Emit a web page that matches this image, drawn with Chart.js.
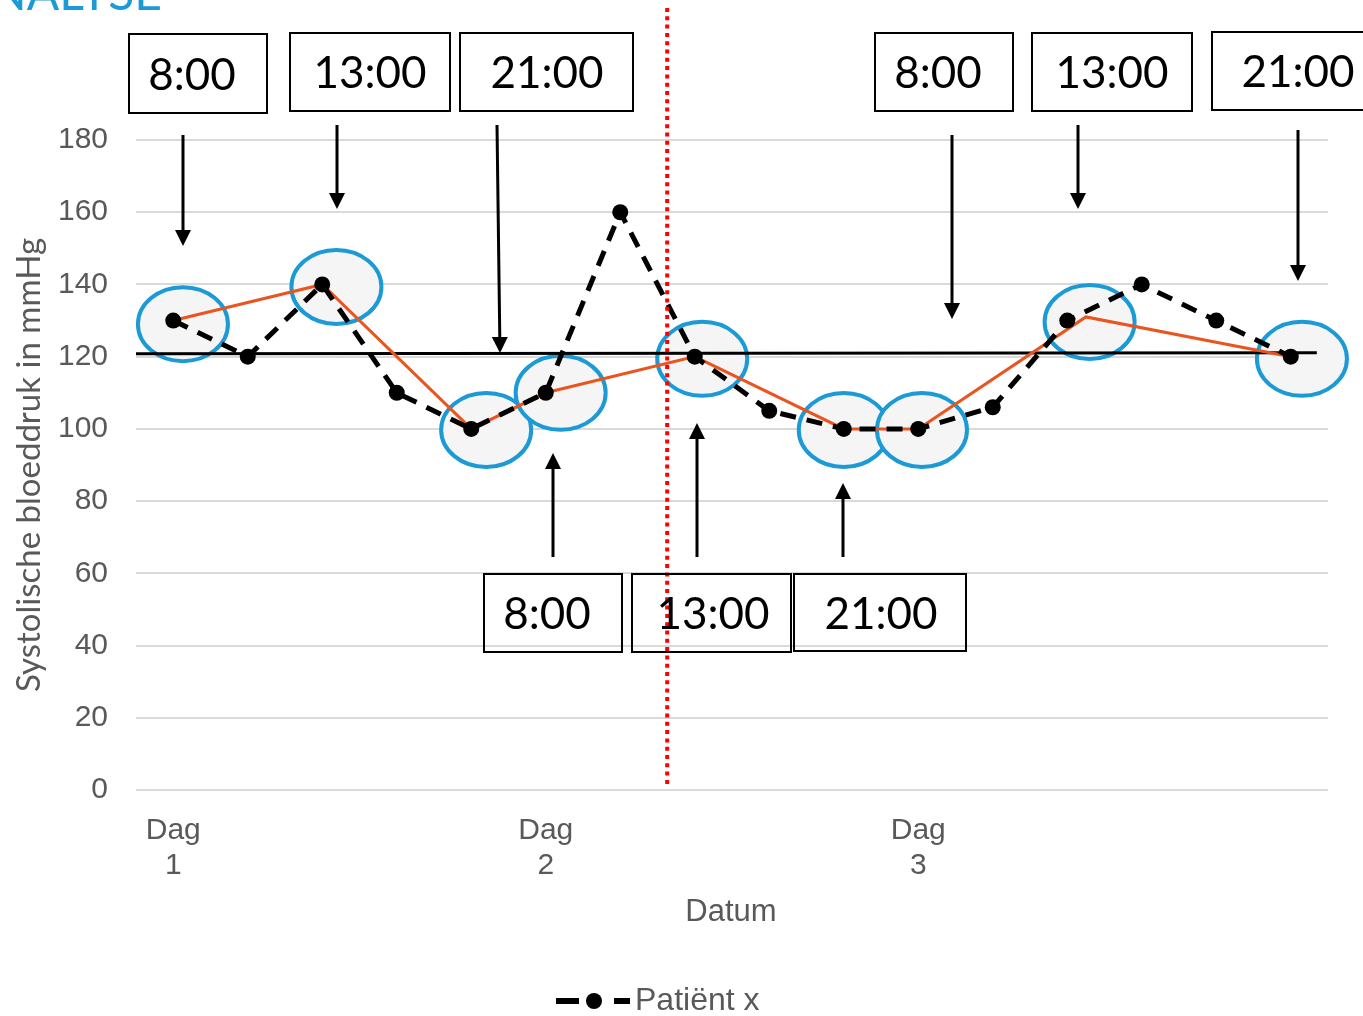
<!DOCTYPE html>
<html>
<head>
<meta charset="utf-8">
<script src="https://cdn.jsdelivr.net/npm/chart.js@4.4.1/dist/chart.umd.min.js"></script>
<style>
    html, body { margin: 0; padding: 0; background: #fff; }
    #wrap { width: 1363px; height: 1016px; position: relative; }
</style>
</head>
<body>
<div id="wrap"><canvas id="myChart"></canvas></div>
<script>
// data
const dayTicks = [0, 5, 10];
const dayLabels = ['Dag 1', 'Dag 2', 'Dag 3'];
const patientValues = [130, 120, 140, 110, 100, 110, 160, 120, 105, 100, 100, 106, 130, 140, 130, 120];
const yTicks = [0, 20, 40, 60, 80, 100, 120, 140, 160, 180];

// orange line through the circled readings
const pickX = [0, 2, 4, 5, 7, 9, 10, 12.25, 15];
const pickY = [130, 140, 100, 110, 120, 100, 100, 131, 120];

// blue ellipses (drawn by hand around the circled readings)
const ringX = [0.13, 2.19, 4.2, 5.2, 7.1, 9, 10.05, 12.3, 15.15];
const ringY = [129, 139.3, 99.7, 110, 119.4, 99.7, 99.7, 129.6, 119.4];

const refValue = 120.8;   // black target line
const splitX = 6.63;      // red dotted divider

// time boxes: [left, top, right, bottom, text, text centre x]
const timeBoxes = [
    [129, 34, 267, 113, '8:00', 192],
    [290, 33, 450, 111, '13:00', 370],
    [460, 33, 633, 111, '21:00', 547],
    [875, 33, 1013, 111, '8:00', 938],
    [1032, 33, 1192, 111, '13:00', 1112],
    [1212, 32, 1375, 110, '21:00', 1298],
    [484, 574, 622, 652, '8:00', 547],
    [632, 574, 791, 652, '13:00', 713],
    [794, 574, 966, 651, '21:00', 881]
];
// arrows: [x start, y start, x tip, y tip]
const arrows = [
    [183, 135, 183, 246],
    [337, 125, 337, 209],
    [497, 125, 500, 353],
    [952, 135, 952, 319],
    [1078, 125, 1078, 209],
    [1298, 130, 1298, 281],
    [553, 557, 553, 453],
    [697, 557, 697, 423],
    [843, 557, 843, 483]
];

const GRAY = '#595959';
const AXIS_FONT = '"Liberation Sans", Arial, sans-serif';
const BOX_FONT = 'Lato, "Open Sans", sans-serif';

const drawArrow = (ctx, x1, y1, x2, y2) => {
    const ang = Math.atan2(y2 - y1, x2 - x1);
    const len = 16, half = 8;
    const bx = x2 - Math.cos(ang) * len, by = y2 - Math.sin(ang) * len;
    ctx.beginPath();
    ctx.moveTo(x1, y1);
    ctx.lineTo(bx, by);
    ctx.stroke();
    ctx.beginPath();
    ctx.moveTo(x2, y2);
    ctx.lineTo(bx + Math.sin(ang) * half, by - Math.cos(ang) * half);
    ctx.lineTo(bx - Math.sin(ang) * half, by + Math.cos(ang) * half);
    ctx.closePath();
    ctx.fill();
};

const overlay = {
    id: 'overlay',
    beforeDatasetsDraw(chart) {
        const { ctx, scales: { x, y } } = chart;
        ctx.save();
        // ellipses
        ringX.forEach((rx, i) => {
            ctx.beginPath();
            ctx.ellipse(x.getPixelForValue(rx), y.getPixelForValue(ringY[i]), 45, 37, 0, 0, Math.PI * 2);
            ctx.fillStyle = '#f5f5f5';
            ctx.fill();
            ctx.lineWidth = 4;
            ctx.strokeStyle = '#1b9ad6';
            ctx.stroke();
        });
        // target line
        ctx.beginPath();
        ctx.moveTo(x.getPixelForValue(-0.5), y.getPixelForValue(refValue));
        ctx.lineTo(x.getPixelForValue(15.35), y.getPixelForValue(refValue + 0.3));
        ctx.lineWidth = 3;
        ctx.strokeStyle = '#000';
        ctx.stroke();
        ctx.restore();
    },
    afterDatasetsDraw(chart) {
        const { ctx, scales: { x, y } } = chart;
        ctx.save();
        // red divider
        ctx.beginPath();
        ctx.setLineDash([4, 4.3]);
        ctx.moveTo(x.getPixelForValue(splitX), 8);
        ctx.lineTo(x.getPixelForValue(splitX), y.getPixelForValue(1));
        ctx.lineWidth = 4;
        ctx.strokeStyle = '#ff0000';
        ctx.stroke();
        ctx.setLineDash([]);

        // boxes
        ctx.strokeStyle = '#000';
        ctx.fillStyle = '#000';
        ctx.lineWidth = 2;
        ctx.font = '44px ' + BOX_FONT;
        ctx.textAlign = 'center';
        ctx.textBaseline = 'middle';
        timeBoxes.forEach(([l, t, r, b, txt, tx]) => {
            ctx.strokeRect(l, t, r - l, b - t);
            ctx.fillText(txt, tx, (t + b) / 2 + 2);
        });

        // arrows
        ctx.lineWidth = 3;
        arrows.forEach(a => drawArrow(ctx, ...a));

        // heading, cut off at the top
        ctx.fillStyle = '#1b9ad6';
        ctx.font = '48px ' + BOX_FONT;
        ctx.textAlign = 'right';
        ctx.textBaseline = 'alphabetic';
        ctx.fillText('ANALYSE', 162, 10);

        // y title
        ctx.fillStyle = GRAY;
        ctx.font = '33px ' + BOX_FONT;
        ctx.textAlign = 'center';
        ctx.textBaseline = 'middle';
        ctx.translate(29, 465);
        ctx.rotate(-Math.PI / 2);
        ctx.fillText('Systolische bloeddruk in mmHg', 0, 0);
        ctx.restore();

        // x title
        ctx.save();
        ctx.fillStyle = GRAY;
        ctx.font = '31px ' + AXIS_FONT;
        ctx.textAlign = 'center';
        ctx.textBaseline = 'middle';
        ctx.fillText('Datum', 731, 912);

        // legend
        ctx.strokeStyle = '#000';
        ctx.lineWidth = 6;
        ctx.beginPath();
        ctx.moveTo(556, 1001); ctx.lineTo(579, 1001);
        ctx.moveTo(614, 1001); ctx.lineTo(630, 1001);
        ctx.stroke();
        ctx.beginPath();
        ctx.arc(594, 1001, 8, 0, Math.PI * 2);
        ctx.fillStyle = '#000';
        ctx.fill();
        ctx.fillStyle = GRAY;
        ctx.textAlign = 'left';
        ctx.font = '32px ' + AXIS_FONT;
        ctx.fillText('Patiënt x', 635, 1001);
        ctx.restore();
    }
};

const ctx = document.getElementById('myChart');
const myChart = new Chart(ctx, {
    type: 'line',
    data: {
        datasets: [{
            label: 'Patiënt x',
            data: patientValues.map((v, i) => ({ x: i, y: v })),
            borderColor: '#000',
            borderWidth: 5,
            borderDash: [16, 11],
            pointRadius: 8,
            pointBackgroundColor: '#000',
            pointBorderWidth: 0,
            tension: 0
        }, {
            label: 'selectie',
            data: pickX.map((v, i) => ({ x: v, y: pickY[i] })),
            borderColor: '#e9541f',
            borderWidth: 3,
            pointRadius: 0,
            tension: 0
        }]
    },
    options: {
        responsive: true,
        maintainAspectRatio: false,
        animation: false,
        layout: { padding: { top: 140, right: 35, bottom: 0, left: 0 } },
        plugins: {
            legend: { display: false },
            tooltip: { enabled: false }
        },
        scales: {
            x: {
                type: 'linear',
                min: -0.5,
                max: 15.5,
                afterFit(scale) { scale.height = 1016 - 790; },
                afterBuildTicks(scale) { scale.ticks = dayTicks.map(v => ({ value: v })); },
                grid: { display: false },
                border: { display: false },
                ticks: {
                    autoSkip: false,
                    maxRotation: 0,
                    padding: 15,
                    color: GRAY,
                    font: { family: AXIS_FONT, size: 30, lineHeight: 1.17 },
                    callback: (v) => dayLabels[dayTicks.indexOf(v)].split(' ')
                }
            },
            y: {
                min: 0,
                max: 180,
                afterFit(scale) { scale.width = 136; },
                afterBuildTicks(scale) { scale.ticks = yTicks.map(v => ({ value: v })); },
                grid: { color: '#d9d9d9', lineWidth: 2, drawTicks: false },
                border: { display: false },
                ticks: {
                    padding: 28,
                    color: GRAY,
                    font: { family: AXIS_FONT, size: 30 }
                }
            }
        }
    },
    plugins: [overlay]
});
</script>
</body>
</html>
